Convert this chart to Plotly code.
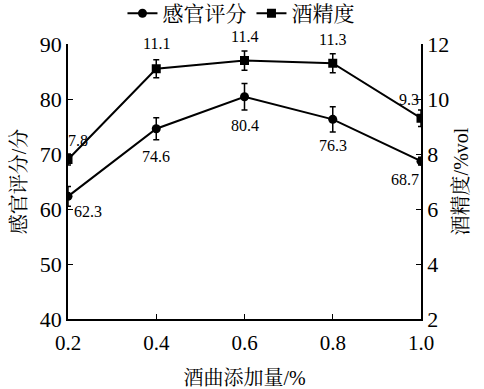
import plotly.graph_objects as go

x_vals = [0.2, 0.4, 0.6, 0.8, 1.0]
sensory = [62.3, 74.6, 80.4, 76.3, 68.7]
sensory_err = [1.8, 2.0, 2.4, 2.3, 0.7]
alcohol = [7.8, 11.1, 11.4, 11.3, 9.3]
alcohol_err = [0.2, 0.33, 0.35, 0.35, 0.3]
x_ticks = [0.2, 0.4, 0.6, 0.8, 1.0]

FONT = "Liberation Serif"
CJK = "Liberation Serif, Noto Serif CJK SC, Noto Sans CJK SC"

fig = go.Figure()
fig.add_trace(go.Scatter(
    x=x_vals, y=sensory, name="感官评分", mode="lines+markers",
    line=dict(color="black", width=2),
    marker=dict(symbol="circle", size=9, color="black"),
    error_y=dict(type="data", array=sensory_err, color="black", thickness=1.5, width=3),
))
fig.add_trace(go.Scatter(
    x=x_vals, y=alcohol, name="酒精度", mode="lines+markers", yaxis="y2",
    line=dict(color="black", width=2),
    marker=dict(symbol="square", size=9, color="black"),
    error_y=dict(type="data", array=alcohol_err, color="black", thickness=1.5, width=3),
))

alc_shift = [(10, -19), (0, -25), (0, -24), (0, -24), (-12, -19)]
sen_shift = [(20, 15), (0, 28), (0, 29), (0, 26), (-16, 18)]
for xv, yv, (dx, dy) in zip(x_vals, alcohol, alc_shift):
    fig.add_annotation(x=xv, y=yv, yref="y2", text=f"{yv:.1f}", showarrow=False,
                       xshift=dx, yshift=-dy, font=dict(family=FONT, size=16, color="black"))
for xv, yv, (dx, dy) in zip(x_vals, sensory, sen_shift):
    fig.add_annotation(x=xv, y=yv, yref="y", text=f"{yv:.1f}", showarrow=False,
                       xshift=dx, yshift=-dy, font=dict(family=FONT, size=16, color="black"))

axis_common = dict(showline=True, linecolor="black", linewidth=1.5, ticks="inside",
                   ticklen=5, tickcolor="black", showgrid=False, zeroline=False)
ytick = dict(family=FONT, size=22, color="black")
xtick = dict(family=FONT, size=21, color="black")

fig.update_layout(
    width=484, height=389,
    margin=dict(l=68, r=63, t=44, b=70, autoexpand=False),
    plot_bgcolor="white", paper_bgcolor="white",
    font=dict(family=CJK, color="black"),
    showlegend=True,
    legend=dict(orientation="h", x=0.49, xanchor="center", y=1.185, yanchor="top",
                yref="paper", font=dict(family=CJK, size=21, color="black"),
                itemwidth=30, tracegroupgap=0, bgcolor="rgba(0,0,0,0)"),
    xaxis=dict(range=[0.2, 1.0], tickvals=x_ticks, tickformat=".1f", tickfont=xtick,
               ticklabelstandoff=4,
               title=dict(text="酒曲添加量/%", font=dict(family=CJK, size=20), standoff=18),
               **axis_common),
    yaxis=dict(range=[40, 90], dtick=10, tickfont=ytick,
               title=dict(text="感官评分/分", font=dict(family=CJK, size=20), standoff=8),
               **axis_common),
    yaxis2=dict(range=[2, 12], dtick=2, overlaying="y", side="right", tickfont=ytick,
                title=dict(text="酒精度/%vol", font=dict(family=CJK, size=20), standoff=6),
                **axis_common),
)

fig.write_html("out.html", config={"displayModeBar": False},
               post_script="document.body.style.margin='0px';")
